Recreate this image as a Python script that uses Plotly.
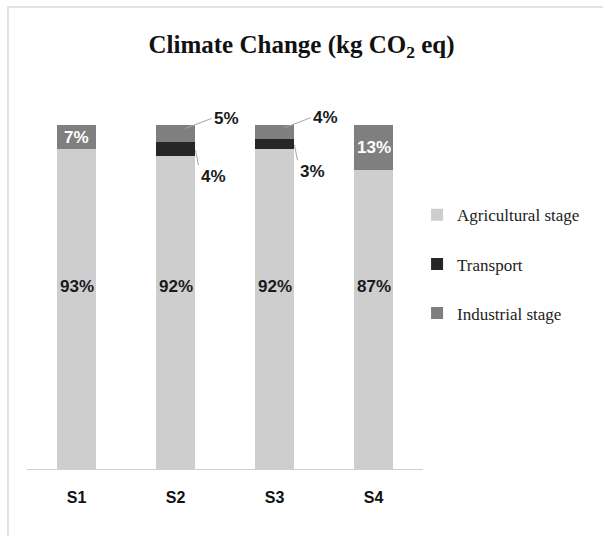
import plotly.graph_objects as go

# Share of climate-change impact per scenario and life-cycle stage (%)
scenarios = ["S1", "S2", "S3", "S4"]
agricultural = [93, 92, 92, 87]
transport = [0, 4, 3, 0]
industrial = [7, 5, 4, 13]

colors = {"agri": "#cfcecf", "trans": "#262626", "ind": "#7f7f7f"}
num_font = "Liberation Sans, Arial, sans-serif"
serif = "Liberation Serif, Times New Roman, serif"


def pct(v):
    return f"{v}%"


fig = go.Figure()

fig.add_bar(
    x=scenarios, y=agricultural, name="Agricultural stage",
    marker=dict(color=colors["agri"], line=dict(width=0)),
    textposition="none", legendgroup="a",
)
fig.add_bar(
    x=scenarios, y=transport, name="Transport",
    marker=dict(color=colors["trans"], line=dict(width=0)),
    textposition="none", legendgroup="b",
)
fig.add_bar(
    x=scenarios, y=industrial, name="Industrial stage",
    marker=dict(color=colors["ind"], line=dict(width=0)),
    textposition="none", legendgroup="c",
)

label_font = dict(family=num_font, size=17, color="#1a1a1a", weight="bold")
white_font = dict(family=num_font, size=17, color="white", weight="bold")
annotations = []
for s, a, t, i in zip(scenarios, agricultural, transport, industrial):
    total = a + t + i
    # agricultural share, written across the lower segment
    annotations.append(dict(
        x=s, y=53, xref="x", yref="y", text=pct(a), showarrow=False,
        font=label_font,
    ))
    if t > 0:
        # leader-line labels for the thin segments
        ind_y = 100.0 * (a + t + i * 0.8) / total
        trans_y = 100.0 * (a + t * 0.4) / total
        annotations.append(dict(
            x=s, y=ind_y, xref="x", yref="y", text=pct(i),
            showarrow=True, arrowhead=0, arrowwidth=1, arrowcolor="#a6a6a6",
            ax=26, ay=-10, xanchor="left", xshift=10,
            font=label_font,
        ))
        annotations.append(dict(
            x=s, y=trans_y, xref="x", yref="y", text=pct(t),
            showarrow=True, arrowhead=0, arrowwidth=1, arrowcolor="#a6a6a6",
            ax=3, ay=15, xanchor="left", yanchor="top", xshift=20,
            font=label_font,
        ))
    else:
        # industrial share written inside its own segment
        annotations.append(dict(
            x=s, y=100.0 * (a + i / 2) / total, xref="x", yref="y",
            text=pct(i), showarrow=False, font=white_font,
        ))

fig.update_layout(
    width=603, height=536,
    barmode="stack", barnorm="percent", bargap=0.6,
    paper_bgcolor="white", plot_bgcolor="white",
    margin=dict(l=27, r=180, t=125, b=67),
    title=dict(
        text="<b>Climate Change (kg CO<sub>2</sub> eq)</b>",
        x=0.5, xanchor="center", xref="container",
        y=0.917, yanchor="middle", yref="container",
        font=dict(family=serif, size=25, color="#111111"),
    ),
    legend=dict(
        x=0.985, xanchor="left", y=0.79, yanchor="top",
        traceorder="grouped", tracegroupgap=24,
        font=dict(family=serif, size=17, color="#222222"),
        itemwidth=30, bgcolor="rgba(0,0,0,0)",
    ),
    xaxis=dict(
        showline=True, linecolor="#d0d0d0", linewidth=1,
        ticks="", showgrid=False, ticklabelstandoff=14,
        tickfont=dict(family=num_font, size=16, color="#111111", weight="bold"),
    ),
    yaxis=dict(
        range=[0, 100], visible=False, showgrid=False, zeroline=False,
    ),
    annotations=annotations,
    shapes=[dict(
        type="path", xref="paper", yref="paper",
        path="M -0.048,-0.3 L -0.048,1.343 L 1.6,1.343",
        line=dict(color="#d9d9d9", width=1.5),
    )],
)

fig.write_html("out.html")
